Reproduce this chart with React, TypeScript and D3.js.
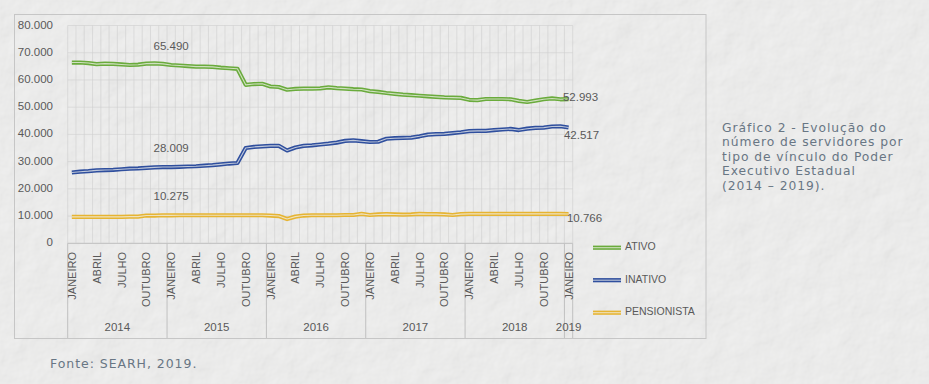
import { useEffect, useRef } from 'react';
import * as d3 from 'd3';

// categorias: meses de jan/2014 a jan/2019
const years = ['2014', '2015', '2016', '2017', '2018', '2019'];
const monthNames = ['JANEIRO', 'FEVEREIRO', 'MARÇO', 'ABRIL', 'MAIO', 'JUNHO', 'JULHO', 'AGOSTO', 'SETEMBRO', 'OUTUBRO', 'NOVEMBRO', 'DEZEMBRO'];
const shownMonths = ['JANEIRO', 'ABRIL', 'JULHO', 'OUTUBRO'];
const yTicks = [0, 10000, 20000, 30000, 40000, 50000, 60000, 70000, 80000];

// valores
const ativo = [
  66400, 66400, 66200, 65800, 66000, 65900, 65700, 65500, 65600, 66000, 66100, 65900,
  65490, 65300, 65100, 64900, 64900, 64800, 64500, 64300, 64100, 58200, 58500, 58600,
  57600, 57400, 56400, 56700, 56800, 56800, 56900, 57300, 57000, 56800, 56600, 56500,
  55900, 55600, 55200, 54900, 54600, 54400, 54200, 54000, 53800, 53600, 53500, 53400,
  52700, 52600, 53000, 53000, 53000, 52900, 52300, 51900, 52400, 52900, 53200, 52900,
  52993,
];
const inativo = [
  26000, 26300, 26500, 26800, 26900, 27000, 27200, 27400, 27500, 27700, 27900, 28000,
  28009, 28100, 28200, 28300, 28500, 28700, 29000, 29300, 29500, 35000, 35400, 35600,
  35800, 35800, 34100, 35200, 35800, 36000, 36300, 36600, 37000, 37600, 37800, 37500,
  37200, 37300, 38400, 38600, 38700, 38800, 39300, 39900, 40100, 40200, 40500, 40800,
  41200, 41300, 41300, 41600, 41800, 42000, 41600, 42100, 42400, 42500, 42900, 43000,
  42517,
];
const pensionista = [
  9700, 9700, 9700, 9700, 9700, 9700, 9700, 9800, 9800, 10200, 10200, 10300,
  10275, 10300, 10300, 10300, 10300, 10300, 10300, 10300, 10300, 10300, 10300, 10300,
  10200, 10000, 8900, 9800, 10200, 10300, 10300, 10300, 10300, 10400, 10400, 10800,
  10400, 10600, 10700, 10600, 10500, 10600, 10800, 10700, 10700, 10600, 10400, 10700,
  10800, 10800, 10800, 10800, 10800, 10800, 10800, 10800, 10800, 10800, 10800, 10800,
  10766,
];
const seriesNames = ['ATIVO', 'INATIVO', 'PENSIONISTA'];
const seriesColors = ['#6aab3c', '#2f4f9e', '#e6b432'];
const labelledPoints = [12, 60];

const caption = [
  'Gráfico 2 - Evolução do',
  'número de servidores por',
  'tipo de vínculo do Poder',
  'Executivo Estadual',
  '(2014 – 2019).',
];

export default function App() {
  const svgRef = useRef(null);

  useEffect(() => {
    const width = 929;
    const height = 384;
    const font = '"Liberation Sans", Arial, sans-serif';
    const captionFont = '"DejaVu Sans", sans-serif';
    const textColor = '#595959';
    const gridColor = '#cfcfcf';

    const svg = d3.select(svgRef.current)
      .attr('width', width)
      .attr('height', height);
    svg.selectAll('*').remove();

    // papel texturizado
    const defs = svg.append('defs');
    const f = defs.append('filter').attr('id', 'paper')
      .attr('x', 0).attr('y', 0).attr('width', '100%').attr('height', '100%');
    f.append('feTurbulence').attr('type', 'fractalNoise')
      .attr('baseFrequency', 0.035).attr('numOctaves', 4).attr('seed', 3).attr('result', 'n');
    f.append('feDiffuseLighting').attr('in', 'n').attr('lighting-color', '#ffffff')
      .attr('surfaceScale', 1.8).attr('result', 'l')
      .append('feDistantLight').attr('azimuth', 45).attr('elevation', 60);
    f.append('feColorMatrix').attr('in', 'l').attr('type', 'saturate').attr('values', 0);

    svg.append('rect').attr('width', width).attr('height', height).attr('fill', '#e9e9e8');
    svg.append('rect').attr('width', width).attr('height', height)
      .attr('filter', 'url(#paper)').attr('opacity', 0.36);

    // categorias
    const categories = years.flatMap((y, k) =>
      monthNames.slice(0, k === years.length - 1 ? 1 : 12).map(m => ({ year: y, month: m })));

    const x = d3.scaleBand()
      .domain(categories.map((d, i) => i))
      .range([67.7, 572.7])
      .padding(0);
    const bw = x.bandwidth();
    const cx = i => x(i) + bw / 2;

    const y = d3.scaleLinear().domain([0, 80000]).range([243.3, 25.5]);
    const fmt = d3.formatLocale({ decimal: ',', thousands: '.', grouping: [3], currency: ['R$', ''] }).format(',');

    // moldura
    svg.append('rect')
      .attr('x', 14.5).attr('y', 14.5).attr('width', 691.5).attr('height', 324)
      .attr('fill', 'none').attr('stroke', '#c6c6c6').attr('stroke-width', 1);

    const g = svg.append('g');

    // grade
    g.selectAll('.hgrid').data(yTicks).enter().append('line')
      .attr('x1', 67.7).attr('x2', 572.7)
      .attr('y1', d => y(d)).attr('y2', d => y(d))
      .attr('stroke', d => (d === 0 ? '#bdbdbd' : gridColor))
      .attr('stroke-width', d => (d === 0 ? 1 : 0.6));

    const bounds = d3.range(categories.length + 1).map(i => 67.7 + i * bw);
    g.selectAll('.vgrid').data(bounds).enter().append('line')
      .attr('x1', d => d).attr('x2', d => d)
      .attr('y1', y(80000)).attr('y2', y(0))
      .attr('stroke', gridColor).attr('stroke-width', 0.6);

    // divisórias dos anos
    const yearStart = years.map(yy => categories.findIndex(c => c.year === yy));
    const dividers = [...yearStart.map(i => x(i)), 572.7];
    g.selectAll('.ydiv').data(dividers).enter().append('line')
      .attr('x1', d => d).attr('x2', d => d)
      .attr('y1', y(0)).attr('y2', 338)
      .attr('stroke', '#c0c0c0').attr('stroke-width', 1);

    // eixo Y
    g.selectAll('.ylab').data(yTicks).enter().append('text')
      .attr('x', 53).attr('y', d => y(d))
      .attr('text-anchor', 'end').attr('dominant-baseline', 'middle')
      .attr('font-family', font).attr('font-size', 11.5).attr('fill', textColor)
      .text(d => (d === 0 ? '0' : fmt(d)));

    // rótulos dos meses
    const monthTicks = categories.map((c, i) => ({ ...c, i })).filter(c => shownMonths.includes(c.month));
    g.selectAll('.mlab').data(monthTicks).enter().append('text')
      .attr('transform', d => `translate(${cx(d.i) + 4},252) rotate(-90)`)
      .attr('text-anchor', 'end')
      .attr('font-family', font).attr('font-size', 11).attr('fill', textColor)
      .text(d => d.month);

    // rótulos dos anos
    g.selectAll('.yrlab').data(years).enter().append('text')
      .attr('x', (d, k) => (dividers[k] + dividers[k + 1]) / 2)
      .attr('y', 328)
      .attr('text-anchor', 'middle').attr('dominant-baseline', 'middle')
      .attr('font-family', font).attr('font-size', 11.5).attr('fill', textColor)
      .text(d => d);

    // séries
    const series = [ativo, inativo, pensionista];
    const line = d3.line().x((d, i) => cx(i)).y(d => y(d));
    series.forEach((vals, s) => {
      g.append('path').attr('d', line(vals))
        .attr('fill', 'none').attr('stroke', seriesColors[s])
        .attr('stroke-width', 4.2).attr('stroke-linejoin', 'round');
      g.append('path').attr('d', line(vals))
        .attr('fill', 'none').attr('stroke', '#f2f2ee').attr('stroke-opacity', 0.75)
        .attr('stroke-width', 1.1).attr('stroke-linejoin', 'round');
    });

    // rótulos de dados
    const endOffsets = [[-5.6, -1], [-4.6, 8], [-1.6, 5]];
    series.forEach((vals, s) => {
      const first = labelledPoints[0];
      g.append('text')
        .attr('x', cx(first)).attr('y', y(vals[first]) - 18)
        .attr('text-anchor', 'middle').attr('dominant-baseline', 'middle')
        .attr('font-family', font).attr('font-size', 11.5).attr('fill', textColor)
        .text(fmt(vals[first]));
      const last = labelledPoints[1];
      g.append('text')
        .attr('x', cx(last) + endOffsets[s][0]).attr('y', y(vals[last]) + endOffsets[s][1])
        .attr('text-anchor', 'start').attr('dominant-baseline', 'middle')
        .attr('font-family', font).attr('font-size', 11.5).attr('fill', textColor)
        .text(fmt(vals[last]));
    });

    // legenda
    const leg = g.selectAll('.leg').data(seriesNames).enter().append('g')
      .attr('transform', (d, k) => `translate(593,${247.7 + k * 32.5})`);
    leg.append('line').attr('x1', 0).attr('x2', 28).attr('y1', 0).attr('y2', 0)
      .attr('stroke', (d, k) => seriesColors[k]).attr('stroke-width', 4.2);
    leg.append('line').attr('x1', 0).attr('x2', 28).attr('y1', 0).attr('y2', 0)
      .attr('stroke', '#f2f2ee').attr('stroke-opacity', 0.75).attr('stroke-width', 1.1);
    leg.append('text').attr('x', 32).attr('y', 0)
      .attr('dominant-baseline', 'middle')
      .attr('font-family', font).attr('font-size', 10.5).attr('fill', textColor)
      .text(d => d);

    // título lateral, uma linha por texto
    svg.selectAll('.cap').data(caption).enter().append('text')
      .attr('x', 722).attr('y', (d, k) => 128.5 + k * 14.4)
      .attr('dominant-baseline', 'middle')
      .attr('font-family', captionFont).attr('font-size', 12.3).attr('letter-spacing', 0.95)
      .attr('fill', '#687684')
      .text(d => d);

    svg.append('text')
      .attr('x', 50).attr('y', 364).attr('dominant-baseline', 'middle')
      .attr('font-family', captionFont).attr('font-size', 12.5).attr('letter-spacing', 0.95)
      .attr('fill', '#687684')
      .text('Fonte: SEARH, 2019.');
  }, []);

  return (
    <div style={{ position: 'fixed', left: 0, top: 0 }}>
      <svg ref={svgRef} style={{ display: 'block' }} />
    </div>
  );
}
